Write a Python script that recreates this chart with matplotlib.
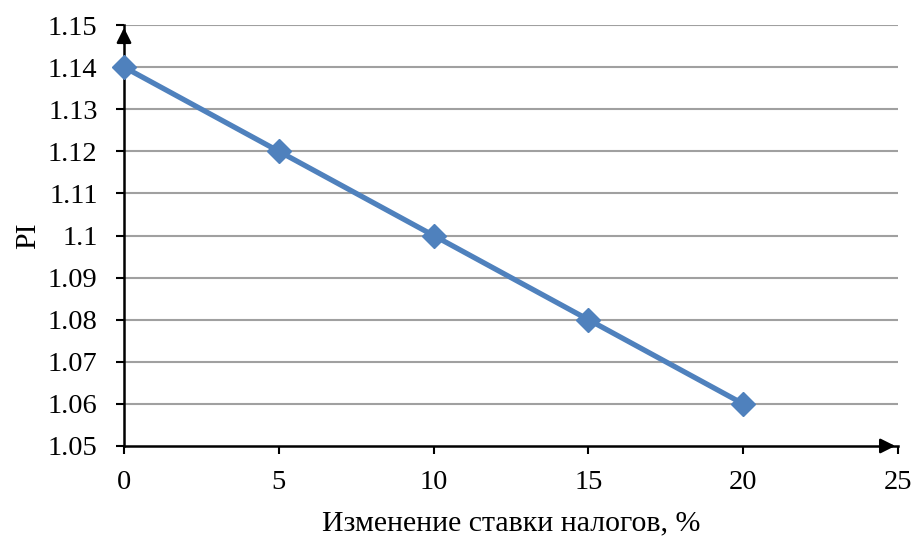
import matplotlib.pyplot as plt
import numpy as np

tax_change = [0, 5, 10, 15, 20]
pi_values = [1.14, 1.12, 1.10, 1.08, 1.06]
y_ticks = [1.05, 1.06, 1.07, 1.08, 1.09, 1.1, 1.11, 1.12, 1.13, 1.14, 1.15]
y_labels = ['1.05', '1.06', '1.07', '1.08', '1.09', '1.1', '1.11', '1.12', '1.13', '1.14', '1.15']
x_ticks = [0, 5, 10, 15, 20, 25]

plt.rcParams['font.family'] = ['Liberation Serif', 'DejaVu Serif']

fig = plt.figure(figsize=(9.22, 5.37), dpi=100)
ax = fig.add_axes([0.1345, 0.1695, 0.8395, 0.7839])

for y in y_ticks[1:]:
    ax.axhline(y, color='#a0a0a0', lw=1.5, zorder=1)

ax.plot(tax_change, pi_values, color='#4f81bd', lw=3.8, marker='D',
        markersize=12, markerfacecolor='#4f81bd', markeredgecolor='#4f81bd',
        zorder=3, clip_on=False)

ax.set_xlim(0, 25)
ax.set_ylim(1.05, 1.15)
ax.set_xticks(x_ticks)
ax.set_yticks(y_ticks)
ax.set_yticklabels(y_labels)
ax.tick_params(axis='both', labelsize=20.5, direction='out', length=6, width=1.5,
               color='black')
ax.tick_params(axis='x', pad=11.5)
ax.tick_params(axis='y', pad=13)

for side in ['top', 'right']:
    ax.spines[side].set_visible(False)
for side in ['left', 'bottom']:
    ax.spines[side].set_linewidth(1.8)

# arrow heads at the axis ends
ax.annotate('', xy=(0, 1.15), xytext=(0, 1.145),
            arrowprops=dict(arrowstyle='-|>', color='black', lw=1.8,
                            mutation_scale=22), annotation_clip=False)
ax.annotate('', xy=(25, 1.05), xytext=(24.5, 1.05),
            arrowprops=dict(arrowstyle='-|>', color='black', lw=1.8,
                            mutation_scale=22), annotation_clip=False)

ax.set_xlabel('Изменение ставки налогов, %', fontsize=21.5, labelpad=11)
ax.set_ylabel('PI', fontsize=21.5, labelpad=5)

fig.savefig('out.png', dpi=100)
